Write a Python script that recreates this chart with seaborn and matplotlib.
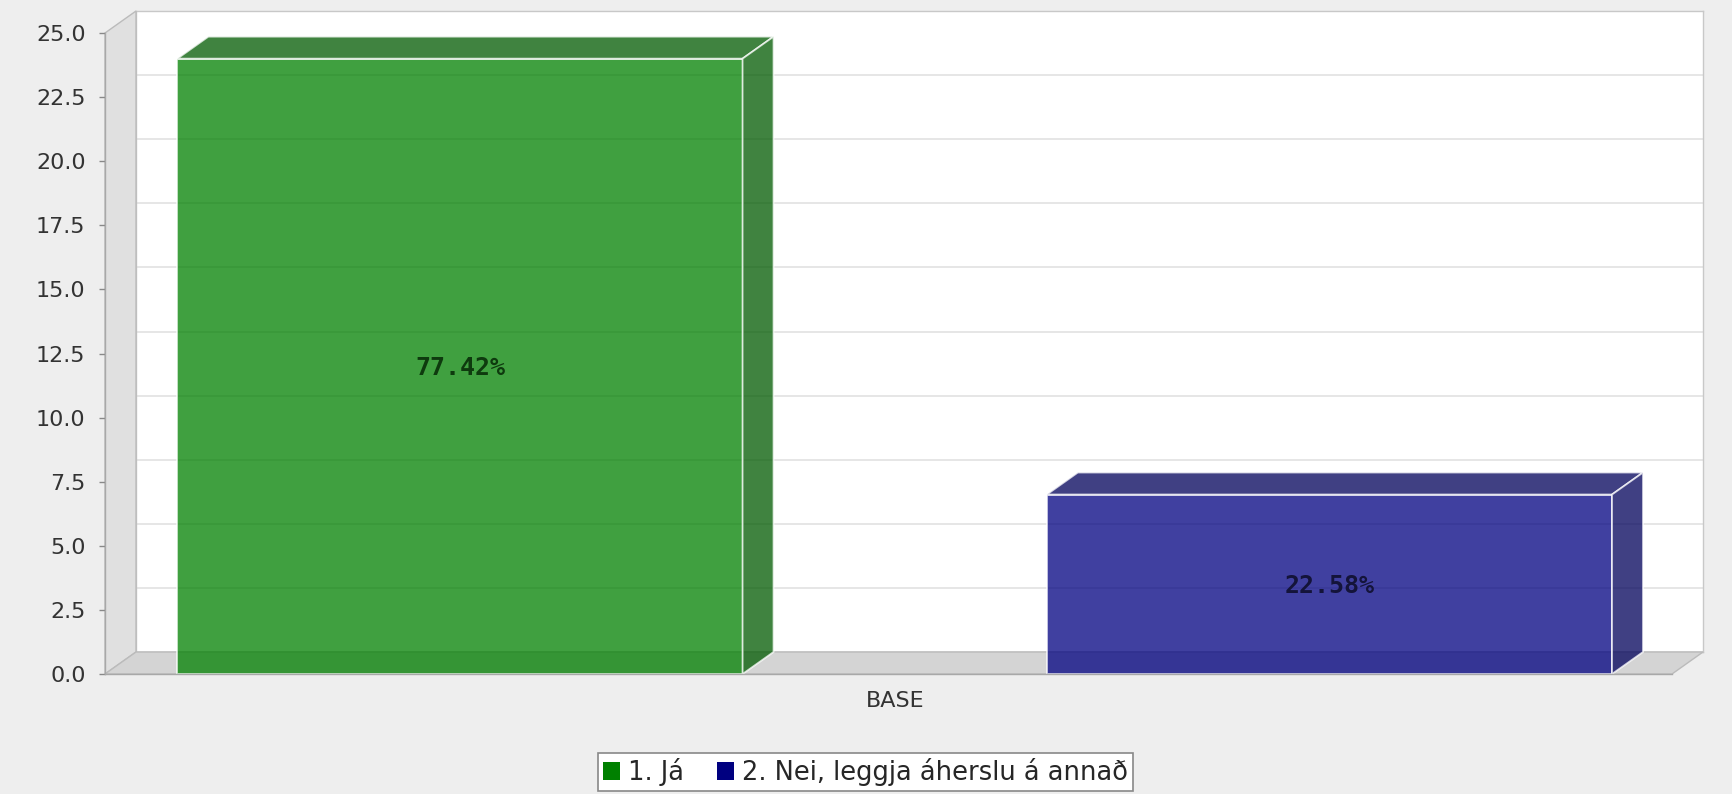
import pandas as pd
import matplotlib.pyplot as plt
import seaborn as sns
from matplotlib.colors import to_rgb
from matplotlib.patches import Polygon, Patch, Rectangle

# ===== DATA =====
category = ["BASE"]
series = ["1. Já", "2. Nei, leggja áherslu á annað"]
counts = [24, 7]
colors = ["#008000", "#000080"]
yticks = [0.0, 2.5, 5.0, 7.5, 10.0, 12.5, 15.0, 17.5, 20.0, 22.5, 25.0]

total = sum(counts)
df = pd.DataFrame({"cat": category * len(series), "serie": series, "value": counts})

# ===== STYLE =====
sns.set_theme(style="white")
plt.rcParams["font.family"] = ["DejaVu Sans"]

W, H = 1733, 794
fig = plt.figure(figsize=(W / 100, H / 100), dpi=100)
fig.patch.set_facecolor("#EEEEEE")

# front plane (pixels)
fl, fr, fb, ft = 105, 1672, 674, 33
depth_x, depth_y = 31, 22
xlim = (-0.3633, 0.3576)

# back wall axes
back = fig.add_axes([(fl + depth_x) / W, (H - fb + depth_y) / H, (fr - fl) / W, (fb - ft) / H])
back.set_facecolor("white")
back.set_ylim(0, 25)
back.set_xlim(*xlim)
back.set_yticks(yticks)
back.set_xticks([])
back.tick_params(left=False, labelleft=False)
back.grid(axis="y", color="#E2E2E2", linewidth=1.2)
for s in back.spines.values():
    s.set_color("#C8C8C8")
    s.set_linewidth(1)

# front axes with bars
ax = fig.add_axes([fl / W, (H - fb) / H, (fr - fl) / W, (fb - ft) / H])
ax.patch.set_alpha(0)

sns.barplot(data=df, x="cat", y="value", hue="serie", palette=colors,
            width=0.8, gap=0.35, saturation=1, alpha=0.75,
            edgecolor=(1, 1, 1, 0.8), linewidth=1.3, legend=False, ax=ax)
bars = [p for p in ax.patches if isinstance(p, Rectangle)]

ax.set_xlim(*xlim)
ax.set_ylim(0, 25)
dx = depth_x * (xlim[1] - xlim[0]) / (fr - fl)
dy = depth_y * 25 / (fb - ft)

# left wall and floor
x0, x1 = xlim
ax.add_patch(Polygon([(x0, 0), (x0, 25), (x0 + dx, 25 + dy), (x0 + dx, dy)],
                     closed=True, facecolor="#E0E0E0", edgecolor="#BBBBBB", lw=1,
                     clip_on=False, zorder=0.5))
ax.add_patch(Polygon([(x0, 0), (x1, 0), (x1 + dx, dy), (x0 + dx, dy)],
                     closed=True, facecolor="#D4D4D4", edgecolor="#BBBBBB", lw=1,
                     clip_on=False, zorder=0.6))

label_colors = ["#0E3A0E", "#14143A"]
for bar, col, cnt, lc in zip(bars, colors, counts, label_colors):
    bx, bw, bh = bar.get_x(), bar.get_width(), bar.get_height()
    bar.set_zorder(2)
    dark = tuple(c * 0.7 for c in to_rgb(col))
    top = Polygon([(bx, bh), (bx + bw, bh), (bx + bw + dx, bh + dy), (bx + dx, bh + dy)],
                  closed=True, facecolor=dark, alpha=0.75, edgecolor=(1, 1, 1, 0.8),
                  lw=1.3, clip_on=False, zorder=2)
    side = Polygon([(bx + bw, 0), (bx + bw + dx, dy), (bx + bw + dx, bh + dy), (bx + bw, bh)],
                   closed=True, facecolor=dark, alpha=0.75, edgecolor=(1, 1, 1, 0.8),
                   lw=1.3, clip_on=False, zorder=2)
    ax.add_patch(top)
    ax.add_patch(side)
    ax.text(bx + bw / 2, bh / 2 - 0.05, f"{cnt / total * 100:.2f}%", ha="center", va="center",
            fontsize=18, fontweight="bold", family="DejaVu Sans Mono", color=lc, zorder=3)

ax.set_yticks(yticks)
ax.set_yticklabels([f"{t:.1f}" for t in yticks])
ax.tick_params(axis="y", left=True, length=4, width=1, color="#888888", pad=10,
               labelsize=16, labelcolor="#333333")
ax.tick_params(axis="x", bottom=False, pad=6, labelsize=16, labelcolor="#333333")
ax.set_xlabel("")
ax.set_ylabel("")
for name, s in ax.spines.items():
    s.set_visible(name in ("left", "bottom"))
    s.set_color("#A8A8A8")
    s.set_linewidth(1)

handles = [Patch(facecolor=c, edgecolor="none") for c in colors]
leg = fig.legend(handles, series, loc="center", bbox_to_anchor=(865.5 / W, 1 - 772 / H),
                 ncol=2, frameon=True, fancybox=False, framealpha=1, edgecolor="#888888",
                 fontsize=18.5, handlelength=0.65, handleheight=0.75, handletextpad=0.3,
                 columnspacing=1.3, borderpad=0.2, borderaxespad=0)
leg.get_frame().set_linewidth(1.2)

fig.savefig("out.png", dpi=100, facecolor=fig.get_facecolor())
